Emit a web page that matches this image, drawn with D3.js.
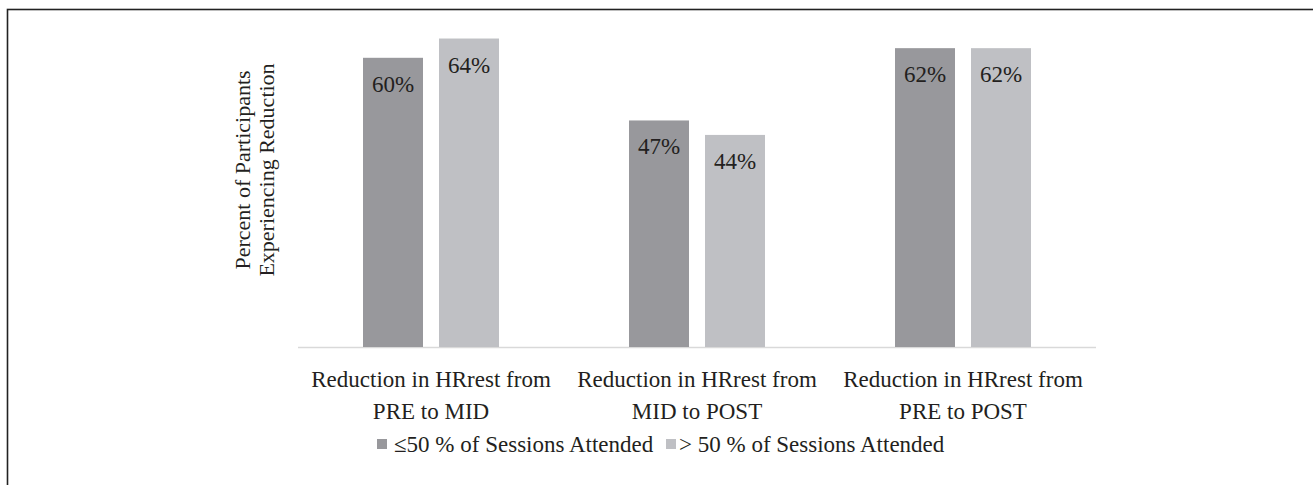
<!DOCTYPE html>
<html>
<head>
<meta charset="utf-8">
<script src="https://cdn.jsdelivr.net/npm/d3@7"></script>
<style>
	body { margin: 0; background: #fff; }
	text { font-family: "Liberation Serif", "Times New Roman", serif; fill: #231f20; }
</style>
</head>
<body>
<svg id="chart" width="1313" height="485"></svg>
<script>
var categories = [
	["Reduction in HRrest from", "PRE to MID"],
	["Reduction in HRrest from", "MID to POST"],
	["Reduction in HRrest from", "PRE to POST"]
];
var seriesNames = ["\u226450 % of Sessions Attended", "> 50 % of Sessions Attended"];
var lowAttend = [0.60, 0.47, 0.62];
var highAttend = [0.64, 0.44, 0.62];
var yTitle = ["Percent of Participants", "Experiencing Reduction"];
var colours = ["#98989c", "#bfc0c4"];

var svg = d3.select("#chart");

// frame (only top & left visible in the original)
svg.append("rect")
	.attr("x", 7.5).attr("y", 9.5)
	.attr("width", 1400).attr("height", 600)
	.attr("fill", "none").attr("stroke", "#222").attr("stroke-width", 1.6);

var baseY = 347,
	groupIds = d3.range(categories.length),
	x0 = d3.scaleBand().domain(groupIds).range([298, 1096]),
	x1 = d3.scaleBand().domain([0, 1]).range([65, 201]).paddingInner(16 / 76),
	y = d3.scaleLinear().domain([0, 0.7]).range([baseY, baseY - 337.4]);

var data = [];
groupIds.forEach(function(g){
	data.push({g: g, s: 0, v: lowAttend[g]});
	data.push({g: g, s: 1, v: highAttend[g]});
});

svg.append("line")
	.attr("x1", x0.range()[0]).attr("x2", x0.range()[1])
	.attr("y1", baseY + 0.5).attr("y2", baseY + 0.5)
	.attr("stroke", "#d9d9d9").attr("stroke-width", 1.5);

var bars = svg.append("g").selectAll("g")
	.data(data)
	.enter().append("g");

bars.append("rect")
	.attr("x", function(d) {return x0(d.g) + x1(d.s);})
	.attr("y", function(d) {return y(d.v);})
	.attr("width", x1.bandwidth())
	.attr("height", function(d) {return baseY - y(d.v);})
	.attr("fill", function(d) {return colours[d.s];});

bars.append("text")
	.attr("x", function(d) {return x0(d.g) + x1(d.s) + x1.bandwidth() / 2;})
	.attr("y", function(d) {return y(d.v) + 34;})
	.attr("text-anchor", "middle")
	.attr("font-size", 23)
	.text(function(d) {return Math.round(d.v * 100) + "%";});

// category labels
var cats = svg.append("g").selectAll("text")
	.data(categories)
	.enter().append("text")
		.attr("text-anchor", "middle")
		.attr("font-size", 23)
		.attr("transform", function(d, i) {
			return "translate(" + (x0(i) + x0.bandwidth() / 2) + ",387)";
		});
cats.selectAll("tspan")
	.data(function(d) {return d;})
	.enter().append("tspan")
		.attr("x", 0)
		.attr("y", function(d, i) {return i * 32;})
		.text(function(d) {return d;});

// y title
var yt = svg.append("text")
	.attr("text-anchor", "middle")
	.attr("font-size", 22)
	.attr("transform", "translate(250,170) rotate(-90)");
yt.selectAll("tspan")
	.data(yTitle)
	.enter().append("tspan")
		.attr("x", 0)
		.attr("y", function(d, i) {return i * 24;})
		.text(function(d) {return d;});

// legend
var legendX = [377, 666];
var leg = svg.append("g").selectAll("g")
	.data(seriesNames)
	.enter().append("g")
		.attr("transform", function(d, i) {return "translate(" + legendX[i] + ",444)";});
leg.append("rect")
	.attr("x", 0).attr("y", -5)
	.attr("width", 10).attr("height", 10)
	.attr("fill", function(d, i) {return colours[i];});
leg.append("text")
	.attr("x", function(d, i) {return i ? 13 : 17;}).attr("y", 8)
	.attr("font-size", 23)
	.text(function(d) {return d;});
</script>
</body>
</html>
